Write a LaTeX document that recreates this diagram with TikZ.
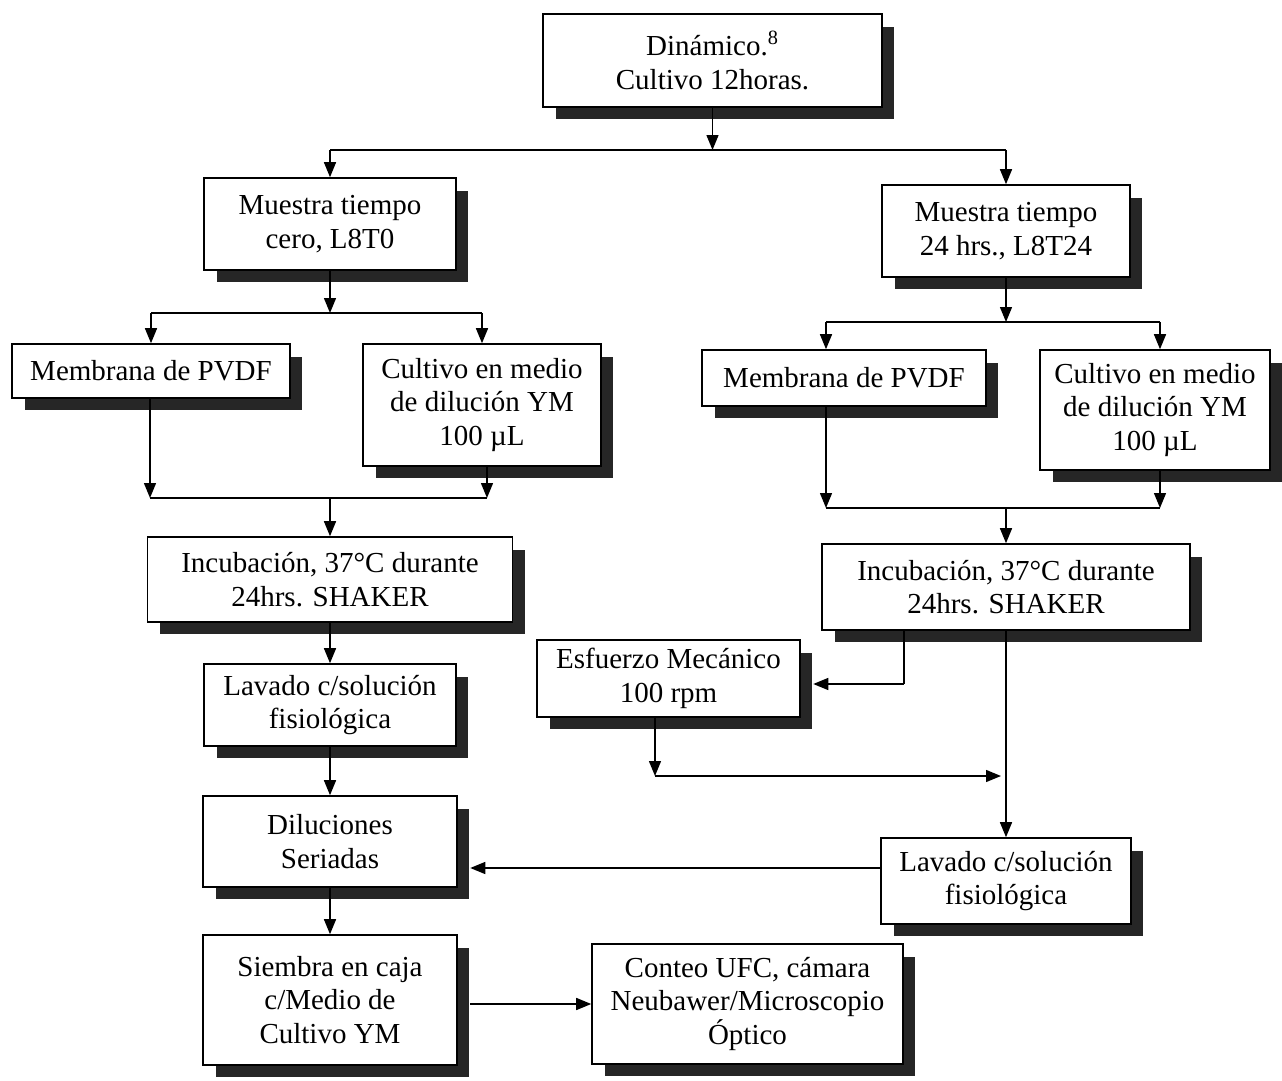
\documentclass[tikz,border=0pt]{standalone}
\usepackage{fontspec}
\setmainfont{Liberation Serif}
\usetikzlibrary{arrows.meta,shadows,calc}
\begin{document}
\begin{tikzpicture}[x=0.02cm,y=-0.02cm,
  box/.style={draw=black, line width=0.9pt, fill=white, align=center, inner sep=0pt,
    font=\fontsize{16.5}{19}\selectfont,
    drop shadow={shadow xshift=0.25cm, shadow yshift=-0.25cm, fill=black!85, opacity=1}},
  link/.style={line width=0.8pt},
  arr/.style={link, -{Triangle[length=0.3cm,width=0.24cm]}}]
\useasboundingbox[fill=white] (0,0) rectangle (1282,1081);

% process boxes
\node[box, minimum width=6.78cm, minimum height=1.86cm] (b1) at (712.5,60.5) {Dinámico.\textsuperscript{8}\\Cultivo 12horas.};
\node[box, minimum width=5.04cm, minimum height=1.84cm] (b2) at (330,224) {Muestra tiempo\\cero, L8T0};
\node[box, minimum width=4.96cm, minimum height=1.84cm] (b3) at (1006,231) {Muestra tiempo\\24 hrs., L8T24};
\node[box, minimum width=5.56cm, minimum height=1.08cm] (b4) at (151,371) {Membrana de PVDF};
\node[box, minimum width=4.76cm, minimum height=2.44cm] (b5) at (482,405) {Cultivo en medio\\de dilución YM\\100 µL};
\node[box, minimum width=5.68cm, minimum height=1.12cm] (b6) at (844,378) {Membrana de PVDF};
\node[box, minimum width=4.60cm, minimum height=2.40cm] (b7) at (1155,410) {Cultivo en medio\\de dilución YM\\100 µL};
\node[box, minimum width=7.30cm, minimum height=1.70cm] (b8) at (330,579.5) {Incubación, 37°C durante\\24hrs. SHAKER};
\node[box, minimum width=7.36cm, minimum height=1.72cm] (b9) at (1006,587) {Incubación, 37°C durante\\24hrs. SHAKER};
\node[box, minimum width=5.26cm, minimum height=1.54cm] (b10) at (668.5,678.5) {Esfuerzo Mecánico\\100 rpm};
\node[box, minimum width=5.04cm, minimum height=1.64cm] (b11) at (330,705) {Lavado c/solución\\fisiológica};
\node[box, minimum width=5.08cm, minimum height=1.82cm] (b12) at (330,841.5) {Diluciones\\Seriadas};
\node[box, minimum width=5.00cm, minimum height=1.72cm] (b13) at (1006,881) {Lavado c/solución\\fisiológica};
\node[box, minimum width=5.08cm, minimum height=2.60cm] (b14) at (330,1000) {Siembra en caja\\c/Medio de\\Cultivo YM};
\node[box, minimum width=6.22cm, minimum height=2.40cm] (b15) at (747.5,1004) {Conteo UFC, cámara\\Neubawer/Microscopio\\Óptico};

% junction points of the branching lines
\coordinate (jtop) at (712.5,150);
\coordinate (jl) at (330,313);
\coordinate (jr) at (1006,322);
\coordinate (jrl) at (826,322);
\coordinate (jrr) at (1160,322);
\coordinate (ml) at (150,498);
\coordinate (mr) at (487,498);
\coordinate (mc) at (330,498);
\coordinate (nl) at (826,508);
\coordinate (nr) at (1160,508);
\coordinate (nc) at (1006,508);
\coordinate (ej) at (904,684);
\coordinate (dl) at (655,776);
\coordinate (dr) at (1001,776);
\coordinate (ly) at (0,868);

% top split
\draw[arr] (b1.south) -- (jtop);
\draw[link] (b2.north |- jtop) -- (b3.north |- jtop);
\draw[arr] (b2.north |- jtop) -- (b2.north);
\draw[arr] (b3.north |- jtop) -- (b3.north);

% left branch
\draw[arr] (b2.south) -- (jl);
\draw[link] (b4.north |- jl) -- (b5.north |- jl);
\draw[arr] (b4.north |- jl) -- (b4.north);
\draw[arr] (b5.north |- jl) -- (b5.north);
\draw[arr] (ml |- b4.south) -- (ml);
\draw[arr] (mr |- b5.south) -- (mr);
\draw[link] (ml) -- (mr);
\draw[arr] (mc) -- (b8.north);
\draw[arr] (b8.south) -- (b11.north);
\draw[arr] (b11.south) -- (b12.north);
\draw[arr] (b12.south) -- (b14.north);
\draw[arr] ([xshift=0.25cm]b14.east |- b15.west) -- (b15.west);

% right branch
\draw[arr] (b3.south) -- (jr);
\draw[link] (jrl) -- (jrr);
\draw[arr] (jrl) -- (jrl |- b6.north);
\draw[arr] (jrr) -- (jrr |- b7.north);
\draw[arr] (nl |- b6.south) -- (nl);
\draw[arr] (nr |- b7.south) -- (nr);
\draw[link] (nl) -- (nr);
\draw[arr] (nc) -- (b9.north);
\draw[link] (ej |- b9.south) -- (ej);
\draw[arr] (ej) -- ([xshift=0.25cm]b10.east |- ej);
\draw[arr] (b9.south) -- (b13.north);
\draw[arr] (dl |- b10.south) -- (dl);
\draw[arr] (dl) -- (dr);
\draw[arr] (b13.west |- ly) -- ([xshift=0.25cm]b12.east |- ly);
\end{tikzpicture}
\end{document}
